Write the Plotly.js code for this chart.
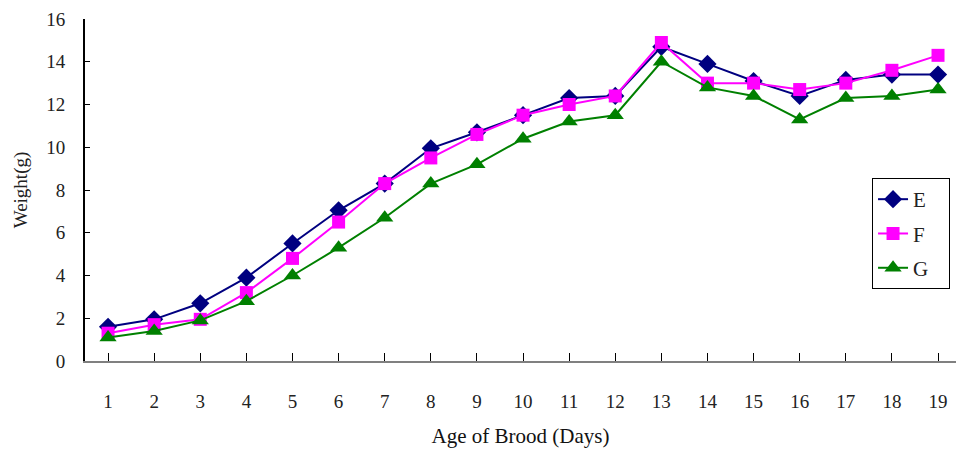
<!DOCTYPE html>
<html><head><meta charset="utf-8">
<script src="https://cdn.plot.ly/plotly-3.0.1.min.js"></script>
<style>html,body{margin:0;padding:0;overflow:hidden;background:#fff}</style>
</head><body>
<div id="chart" style="width:956px;height:451px"></div>
<script>
const days = [1,2,3,4,5,6,7,8,9,10,11,12,13,14,15,16,17,18,19];
const seriesE = [1.6,1.95,2.7,3.9,5.5,7.05,8.3,9.95,10.7,11.5,12.3,12.4,14.7,13.9,13.1,12.4,13.15,13.4,13.4];
const seriesF = [1.3,1.7,1.95,3.2,4.8,6.5,8.3,9.5,10.6,11.5,12.0,12.4,14.9,13.0,13.0,12.7,13.0,13.6,14.3];
const seriesG = [1.1,1.4,1.9,2.8,4.0,5.3,6.7,8.3,9.2,10.4,11.2,11.5,14.0,12.8,12.4,11.3,12.3,12.4,12.7];
const seriesNames = ['E','F','G'];
const yTicks = [0,2,4,6,8,10,12,14,16];

const font = '"Liberation Serif", "Times New Roman", serif';
const pad = '\u00a0'.repeat(3);
function tr(name, y, color, symbol, size, grp){
  return {x: days, y: y, name: name + pad, type:'scatter', mode:'lines+markers',
    legendgroup: grp,
    line:{color:color, width:2},
    marker:{color:color, symbol:symbol, size:size, line:{width:0}}};
}
const data = [
  tr(seriesNames[0], seriesE, '#000080', 'diamond', 14, 'a'),
  tr(seriesNames[1], seriesF, '#FF00FF', 'square', 13, 'b'),
  tr(seriesNames[2], seriesG, '#008000', 'triangle-up', 15, 'c')
];
const layout = {
  width:956, height:451,
  margin:{l:85, r:0, t:19, b:90, pad:0},
  paper_bgcolor:'#fff', plot_bgcolor:'#fff',
  font:{family:font, size:19, color:'#222'},
  showlegend:true,
  legend:{x:0.9036, y:0.535, xanchor:'left', yanchor:'top',
    bgcolor:'#fff', bordercolor:'#000', borderwidth:1,
    font:{family:font, size:21, color:'#222'},
    traceorder:'grouped', tracegroupgap:4},
  xaxis:{range:[0.5,19.39], tickmode:'array', tickvals:days, ticktext:days.map(String),
    tickson:'boundaries', ticks:'inside', ticklen:8, tickcolor:'#000', tickwidth:1,
    showline:true, linecolor:'#808080', linewidth:2, showgrid:false, zeroline:false,
    ticklabelstandoff:22,
    tickfont:{family:font, size:19, color:'#222'},
    title:{text:'Age of Brood (Days)', standoff:18, font:{family:font, size:21, color:'#111'}}},
  yaxis:{range:[0,16], tickmode:'array', tickvals:yTicks, ticks:'inside', ticklen:5,
    tickcolor:'#000', tickwidth:1, showline:true, linecolor:'#000', linewidth:2,
    showgrid:false, zeroline:false, ticklabelstandoff:14,
    tickfont:{family:font, size:19, color:'#222'},
    title:{text:'Weight(g)', standoff:14, font:{family:font, size:19, color:'#222'}}}
};
Plotly.newPlot('chart', data, layout, {staticPlot:true, displayModeBar:false});
</script>
</body></html>
